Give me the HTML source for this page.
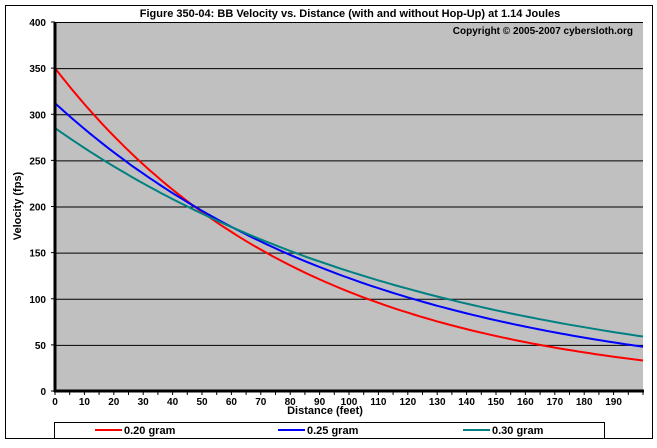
<!DOCTYPE html>
<html><head><meta charset="utf-8"><style>
body{margin:0;background:#fff;width:657px;height:443px;overflow:hidden}
text{font-family:"Liberation Sans",Arial,sans-serif;font-weight:bold}
</style></head><body>
<svg id="s" width="657" height="443" xmlns="http://www.w3.org/2000/svg">
<rect x="5.5" y="5.5" width="647" height="433" fill="#fff" stroke="#000"/>
<rect x="55" y="22" width="588" height="369" fill="#c0c0c0"/>
<g id="grid" stroke="#000" stroke-width="1"></g>
<g id="curves" fill="none" stroke-width="2"></g>
<line x1="55" y1="22" x2="55" y2="392" stroke="#000" stroke-width="3"/>
<line x1="54" y1="391" x2="644" y2="391" stroke="#000" stroke-width="3"/>
<g id="lab" font-size="10"></g>
<text x="350" y="17" font-size="11" text-anchor="middle">Figure 350-04:  BB Velocity vs. Distance (with and without Hop-Up) at 1.14 Joules</text>
<text x="633" y="34" font-size="10" text-anchor="end">Copyright © 2005-2007 cybersloth.org</text>
<text x="325" y="414" font-size="11" text-anchor="middle">Distance (feet)</text>
<text transform="translate(21,206) rotate(-90)" font-size="11" text-anchor="middle">Velocity (fps)</text>
<rect x="54.5" y="422.5" width="550" height="16" fill="#fff" stroke="#000"/>
<line x1="95" y1="430" x2="122" y2="430" stroke="#f00" stroke-width="2"/>
<text x="124" y="434" font-size="11">0.20 gram</text>
<line x1="278" y1="430" x2="305" y2="430" stroke="#00f" stroke-width="2"/>
<text x="307" y="434" font-size="11">0.25 gram</text>
<line x1="463" y1="430" x2="490" y2="430" stroke="#008080" stroke-width="2"/>
<text x="492" y="434" font-size="11">0.30 gram</text>
</svg>
<script>
var ns="http://www.w3.org/2000/svg";
function el(p,t,a){var e=document.createElementNS(ns,t);for(var k in a)e.setAttribute(k,a[k]);document.getElementById(p).appendChild(e);return e;}
function X(d){return 55+d*2.94;} function Y(v){return 391-v*0.9225;}
for(var v=50;v<=400;v+=50){el("grid","line",{x1:55,x2:643,y1:Y(v)+.5,y2:Y(v)+.5});}
for(var v=0;v<=400;v+=50){el("lab","line",{x1:51,x2:55,y1:Y(v),y2:Y(v),stroke:"#000"});var t=el("lab","text",{x:46,y:Y(v)+4,"text-anchor":"end"});t.textContent=v;}
for(var d=0;d<=200;d+=5){el("lab","line",{x1:X(d),x2:X(d),y1:391,y2:395,stroke:"#000"});}
for(var d=0;d<200;d+=10){var t=el("lab","text",{x:X(d),y:405,"text-anchor":"middle"});t.textContent=d;}
[[350,0.0118,"#f00"],[312,0.00936,"#00f"],[285,0.00787,"#008080"]].forEach(function(c){var p=[];for(var d=0;d<=200;d+=2)p.push(X(d).toFixed(1)+","+Y(c[0]*Math.exp(-c[1]*d)).toFixed(1));el("curves","polyline",{points:p.join(" "),stroke:c[2]});});
</script>
</body></html>
